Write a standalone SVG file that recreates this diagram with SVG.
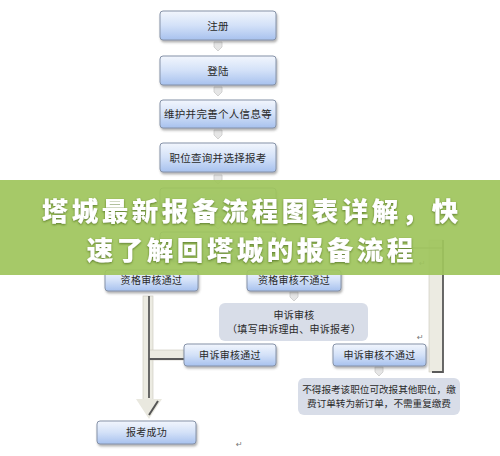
<svg xmlns="http://www.w3.org/2000/svg" width="500" height="456" viewBox="0 0 500 456">
<defs>
<linearGradient id="bg" x1="0" y1="0" x2="0" y2="1">
<stop offset="0" stop-color="#f2f6fd"/>
<stop offset="0.5" stop-color="#d3e1f8"/>
<stop offset="1" stop-color="#a7c1ee"/>
</linearGradient>
<filter id="sh" x="-10%" y="-20%" width="130%" height="160%">
<feDropShadow dx="1" dy="2" stdDeviation="1" flood-color="#555" flood-opacity="0.45"/>
</filter>
<filter id="tsh" x="-5%" y="-20%" width="110%" height="140%">
<feDropShadow dx="0" dy="1" stdDeviation="1.2" flood-color="#3a5a10" flood-opacity="0.7"/>
</filter>
<g id="chev"><path d="M-4,-5 L4,-5 L4,0 L0,4 L-4,0 Z" fill="#e6e6e6" stroke="#c9c9c9" stroke-width="0.8"/></g>
</defs>
<style>
.box{fill:url(#bg);stroke:#8592a8;stroke-width:1;filter:url(#sh)}
.gbox{fill:#d8dde8;stroke:none}
.t{font-family:"Noto Sans CJK SC","Noto Sans CJK JP",sans-serif;fill:#2a2a2a;text-anchor:middle}
.t11{font-size:10.5px;letter-spacing:0.3px}
.t10{font-size:10px;letter-spacing:0.3px}
.t9{font-size:9.6px;letter-spacing:0px}
.ret{font-family:"DejaVu Sans",sans-serif;font-size:8px;fill:#777}
.band{fill:#ecebe2;stroke:#c9c7bb;stroke-width:0.6}
.dark{stroke:#5a5a5a;stroke-width:1.8;fill:none}
.title{font-family:"Noto Sans CJK SC","Noto Sans CJK JP",sans-serif;font-size:26.5px;letter-spacing:3.5px;font-weight:900;fill:#ffffff;text-anchor:middle;filter:url(#tsh)}
</style>
<rect width="500" height="456" fill="#ffffff"/>

<g id="connectors">
<use href="#chev" x="218" y="47"/>
<use href="#chev" x="218" y="92"/>
<use href="#chev" x="218" y="135"/>
<use href="#chev" x="218" y="180"/>
<use href="#chev" x="218" y="225"/>
<use href="#chev" x="294" y="297"/>
<use href="#chev" x="379" y="372"/>
<rect class="band" x="143" y="296" width="10" height="104"/>
<rect class="band" x="149" y="350" width="35" height="10"/>
<path d="M136,399 L162,399 L149,419 Z" fill="#e9e8df" stroke="none"/>
<path d="M149,296 V398" class="dark"/>
<path d="M149,359 H184" class="dark"/>
<path d="M158,401 L149,415" stroke="#555" stroke-width="2" fill="none"/>
<rect class="band" x="429" y="240" width="14" height="132"/>
<path d="M400,248 H443" stroke="#777" stroke-width="1.2"/>
<path d="M443,240 V372 H432" class="dark"/>
</g>

<g id="n1"><rect class="box" x="160" y="11" width="116" height="29" rx="3"/><text class="t t11" x="218" y="29.5">注册</text></g>
<g id="n2"><rect class="box" x="160" y="56" width="116" height="29" rx="3"/><text class="t t11" x="218" y="74.5">登陆</text></g>
<g id="n3"><rect class="box" x="160" y="100" width="116" height="28" rx="3"/><text class="t t11" x="218" y="118">维护并完善个人信息等</text></g>
<g id="n4"><rect class="box" x="160" y="143" width="116" height="29" rx="3"/><text class="t t11" x="218" y="161.5">职位查询并选择报考</text></g>
<g id="n5"><rect class="box" x="160" y="188" width="116" height="29" rx="3"/></g>
<g id="n6"><rect class="box" x="160" y="232" width="116" height="29" rx="3"/></g>

<g id="n7"><rect class="box" x="105" y="270" width="93" height="21" rx="3"/><text class="t t10" x="151.5" y="284">资格审核通过</text></g>
<g id="n8"><rect class="box" x="247" y="270" width="94" height="21" rx="3"/><text class="t t10" x="294" y="284">资格审核不通过</text></g>
<g id="n9"><rect class="gbox" x="219" y="303" width="149" height="38" rx="6"/><text class="t t10" x="294" y="319">申诉审核</text><text class="t t10" x="294" y="333">（填写申诉理由、申诉报考）</text></g>
<g id="n10"><rect class="box" x="184" y="344" width="92" height="22" rx="3"/><text class="t t10" x="230" y="358.5">申诉审核通过</text></g>
<g id="n11"><rect class="box" x="333" y="344" width="93" height="22" rx="3"/><text class="t t10" x="379.5" y="358.5">申诉审核不通过</text></g>
<g id="n12"><rect class="gbox" x="298" y="378" width="162" height="37" rx="6"/><text class="t t9" x="379" y="393">不得报考该职位可改报其他职位，缴</text><text class="t t9" x="379" y="407">费订单转为新订单，不需重复缴费</text></g>
<g id="n13"><rect class="box" x="97" y="421" width="99" height="23" rx="3"/><text class="t t10" x="146.5" y="436">报考成功</text></g>

<text class="ret" x="419" y="266">↵</text>
<text class="ret" x="417" y="340">↵</text>
<text class="ret" x="236" y="447">↵</text>

<g id="banner">
<rect x="0" y="180" width="500" height="95" fill="#9fc55c" opacity="0.93"/>
<text class="title" x="251.75" y="221">塔城最新报备流程图表详解，快</text>
<text class="title" x="251.75" y="260">速了解回塔城的报备流程</text>
</g>
</svg>
